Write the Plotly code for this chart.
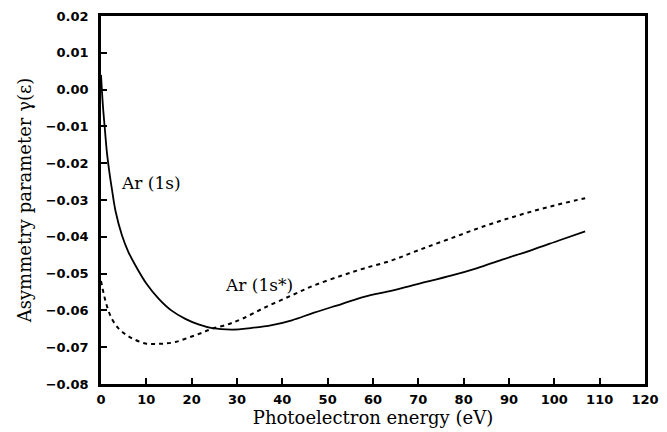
import plotly.graph_objects as go

# Ar (1s) – solid curve
x_1s = [0, 0.4, 0.8, 1.3, 1.8, 2.4, 3.2, 4.6, 6.0, 7.6, 10.0, 12.7, 15.5, 18.6, 21.5, 24.5, 28.9, 33.0, 37.7, 42.1, 47.0, 53.2, 58.0, 64.2, 70.0, 77.4, 83.0, 88.5, 95.0, 101.0, 106.8]
y_1s = [0.004, -0.004, -0.010, -0.017, -0.022, -0.027, -0.033, -0.0395, -0.0440, -0.0478, -0.0527, -0.0568, -0.0600, -0.0623, -0.0638, -0.0648, -0.0652, -0.0648, -0.0640, -0.0627, -0.0606, -0.0582, -0.0563, -0.0546, -0.0528, -0.0505, -0.0485, -0.0462, -0.0436, -0.0410, -0.0385]

# Ar (1s*) – dashed curve
x_1s_star = [0, 0.6, 1.3, 2.4, 3.8, 5.4, 7.2, 9.8, 12.0, 14.1, 16.4, 19.3, 22.0, 24.5, 28.0, 31.1, 36.0, 42.1, 47.0, 53.2, 58.0, 64.2, 70.1, 77.0, 84.8, 92.0, 99.0, 106.8]
y_1s_star = [-0.0520, -0.0555, -0.0588, -0.0623, -0.0648, -0.0665, -0.0678, -0.0690, -0.0691, -0.0690, -0.0686, -0.0674, -0.0662, -0.0650, -0.0638, -0.0623, -0.0593, -0.0559, -0.0532, -0.0505, -0.0486, -0.0464, -0.0436, -0.0405, -0.0370, -0.0342, -0.0318, -0.0295]

x_ticks = list(range(0, 121, 10))
y_ticks = [0.02, 0.01, 0.00, -0.01, -0.02, -0.03, -0.04, -0.05, -0.06, -0.07, -0.08]
y_tick_labels = ["0.02", "0.01", "0.00", "\u22120.01", "\u22120.02", "\u22120.03", "\u22120.04", "\u22120.05", "\u22120.06", "\u22120.07", "\u22120.08"]

labels_text = ["Ar (1s)", "Ar (1s*)"]
labels_x = [11.0, 34.9]
labels_y = [-0.0254, -0.0531]

fig = go.Figure()
fig.add_trace(go.Scatter(x=x_1s, y=y_1s, mode="lines", line=dict(color="black", width=1.8, shape="spline"), showlegend=False))
fig.add_trace(go.Scatter(x=x_1s_star, y=y_1s_star, mode="lines", line=dict(color="black", width=2, dash="4px,4px", shape="spline"), showlegend=False))

for t, lx, ly in zip(labels_text, labels_x, labels_y):
    fig.add_annotation(x=lx, y=ly, text=t, showarrow=False, font=dict(family="DejaVu Serif", size=17, color="black"))

fig.update_layout(
    width=667, height=432,
    margin=dict(l=93, r=30, t=8, b=56),
    paper_bgcolor="white", plot_bgcolor="white",
    xaxis=dict(range=[0, 120], tickvals=x_ticks, ticks="inside", ticklen=6, tickwidth=1.5, tickcolor="black",
               showline=True, linewidth=2.5, linecolor="black", mirror=True, showgrid=False, zeroline=False,
               automargin=False, ticklabeloverflow="allow", ticklabelstandoff=2,
               tickfont=dict(family="DejaVu Sans", size=13, color="black", weight="bold"),
               title=dict(text="Photoelectron energy (eV)", font=dict(family="DejaVu Serif", size=18, color="black"), standoff=4)),
    yaxis=dict(range=[-0.08, 0.02], tickvals=y_ticks, ticktext=y_tick_labels, ticks="inside", ticklen=6, tickwidth=1.5, tickcolor="black",
               showline=True, linewidth=2.5, linecolor="black", mirror=True, showgrid=False, zeroline=False,
               automargin=False, ticklabeloverflow="allow", ticklabelstandoff=7,
               tickfont=dict(family="DejaVu Sans", size=13, color="black", weight="bold"),
               title=dict(text="Asymmetry parameter \u03b3(\u03b5)", font=dict(family="DejaVu Serif", size=18, color="black"), standoff=10)),
)

fig.write_html("out.html")
